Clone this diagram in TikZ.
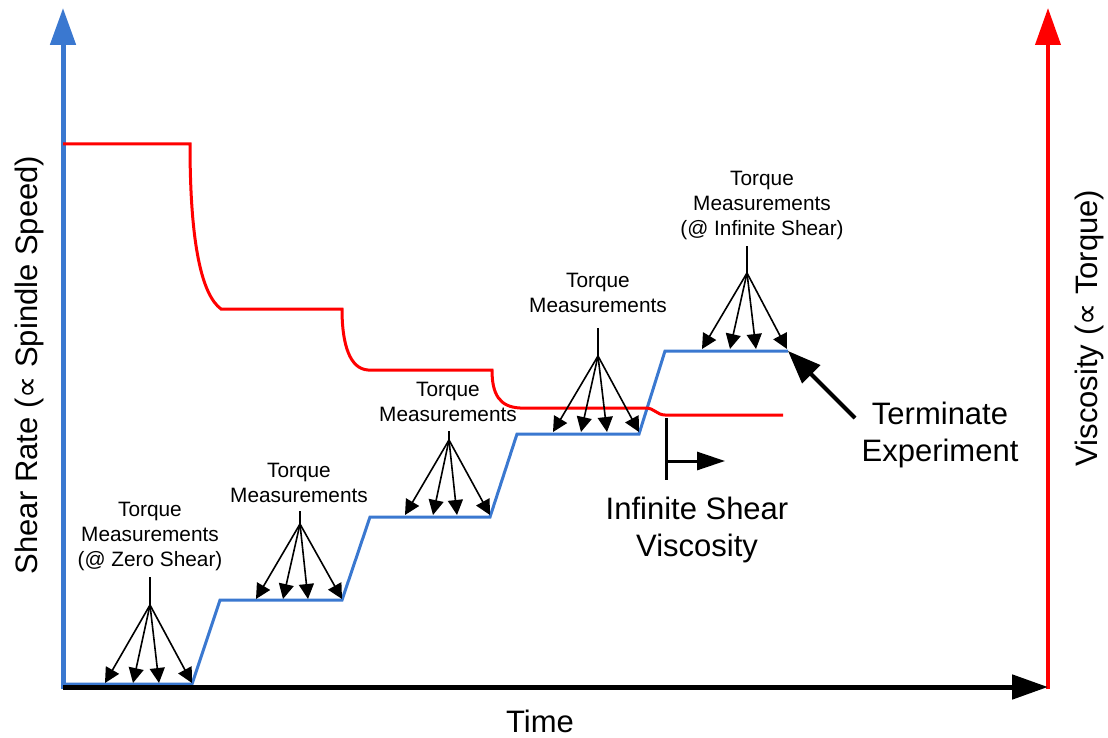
\documentclass[tikz,border=0pt]{standalone}
\usepackage{fontspec}
\setmainfont{Liberation Sans}
\newfontfamily\symfont{DejaVu Sans}
\usetikzlibrary{arrows.meta}
\definecolor{axblue}{RGB}{58,120,208}
\definecolor{axred}{RGB}{255,0,0}
\tikzset{
  small/.style={font=\fontsize{20.8}{25}\selectfont, align=center, inner sep=0pt, anchor=north},
  big/.style={font=\fontsize{31}{37}\selectfont, align=center, inner sep=0pt},
  stemline/.style={line width=1.6pt, black},
  fanarrow/.style={line width=1.6pt, black, -{Triangle[length=15pt,width=15pt]}},
  stair/.style={line width=3pt, axblue, line join=miter},
  redcurve/.style={line width=3pt, axred},
}
\begin{document}
\begin{tikzpicture}[x=1pt,y=-1pt]
\useasboundingbox (0,0) rectangle (1108,738);
% axes
\coordinate (O) at (63,687);
\coordinate (Ytop) at (63,8);
\coordinate (Xend) at (1048,687);
\coordinate (Rbot) at (1048,689);
\coordinate (Rtop) at (1048,8);
\draw[line width=4pt, axred, -{Triangle[length=37pt,width=25pt]}] (Rbot) -- (Rtop);
\draw[line width=5pt, axblue, -{Triangle[length=37pt,width=25pt]}] (63,689) -- (Ytop);
% staircase
\draw[stair] (63,684) -- (192,684) -- (220,600) -- (342,600) -- (370,517) -- (490,517) -- (517,434) -- (639,434) -- (665,351) -- (788,351);
\draw[line width=5pt, black, -{Triangle[length=36pt,width=24pt]}] (O) -- (Xend);
% red viscosity curve
\draw[redcurve] (63,144) -- (190,144) .. controls (190,245) and (202,295) .. (221,309) -- (342,309)
  .. controls (342,345) and (350,369) .. (368,370) -- (492,370)
  .. controls (492,395) and (500,407) .. (520,408) -- (646,408)
  .. controls (654,408) and (657,415) .. (665,415) -- (783,415);
% fans
\foreach \n/\sx/\ty/\cy/\tipy/\a/\b/\c/\d in {
  1/150/577/605/683/105/133/159/192,
  2/300/511/524/599/256/283/308/342,
  3/449/431/440/515/405/433/457/490,
  4/598/328/356/432/553/581/607/639,
  5/747/246/273/349/702/730/756/787}{
  \coordinate (s\n) at (\sx,\ty);
  \coordinate (c\n) at (\sx,\cy);
  \draw[stemline] (s\n) -- (c\n);
  \foreach \t in {\a,\b,\c,\d}{
    \coordinate (tip\n-\t) at (\t,\tipy);
    \draw[fanarrow] (c\n) -- (tip\n-\t);
  }
}
% labels
\node[small] (L1) at (150,502) {Torque\\Measurements\\(@ Zero Shear)};
\node[small] (L2) at (299,463) {Torque\\Measurements};
\node[small] (L3) at (448,382) {Torque\\Measurements};
\node[small] (L4) at (598,273) {Torque\\Measurements};
\node[small] (L5) at (762,171) {Torque\\Measurements\\(@ Infinite Shear)};
% infinite shear marker
\coordinate (ISa) at (666,418);
\coordinate (ISb) at (666,480);
\coordinate (ISm) at (666,461);
\coordinate (ISe) at (725,461);
\draw[line width=3pt] (ISa) -- (ISb);
\draw[line width=3pt, -{Triangle[length=28pt,width=18pt]}] (ISm) -- (ISe);
\node[big, anchor=north] (IS) at (697,497) {Infinite Shear\\Viscosity};
% terminate
\node[big, anchor=north] (TE) at (940,402) {Terminate\\Experiment};
\coordinate (Ttail) at (855,418);
\coordinate (Ttip) at (788,351);
\draw[line width=4pt, -{Triangle[length=33pt,width=25pt]}] (Ttail) -- (Ttip);
% axis labels
\node[big, anchor=north] (T) at (540,710) {Time};
\node[big, rotate=90] (YL) at (29,365) {Shear Rate ({\symfont ∝} Spindle Speed)};
\node[big, rotate=90] (YR) at (1089,328) {Viscosity ({\symfont ∝} Torque)};
\end{tikzpicture}
\end{document}
